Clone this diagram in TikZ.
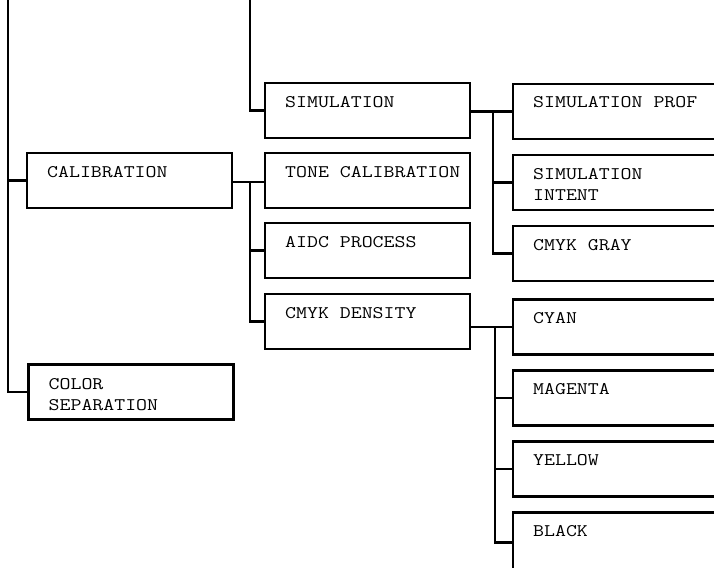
\documentclass[tikz,border=0pt]{standalone}
\usepackage{fontspec}
\newfontfamily\menufont[FakeStretch=1.2]{Latin Modern Mono}
\usetikzlibrary{positioning}
\tikzset{
  menubox/.style={draw, line width=2.4pt, minimum width=205pt, minimum height=55pt,
    inner sep=0pt, outer sep=0pt},
  menutext/.style={anchor=base west, inner sep=0pt, text=black,
    font=\menufont\fontsize{17.7}{21}\selectfont},
  link/.style={line width=2.4pt},
}
\begin{document}
\begin{tikzpicture}[x=1pt, y=-1pt]
  \clip (0,0) rectangle (714,567);
  % left column
  \node[menubox] (calib) at (129.5,180.5) {};
  \node[menubox] (colsep) at (131,392) {};
  % middle column
  \node[menubox] (simul) at (367.5,110.5) {};
  \node[menubox, below=15pt of simul] (tone) {};
  \node[menubox, below=15pt of tone] (aidc) {};
  \node[menubox, below=16pt of aidc] (dens) {};
  % right column, simulation branch
  \node[menubox] (simprof) at (615.5,111.5) {};
  \node[menubox, below=16pt of simprof] (intent) {};
  \node[menubox, below=16pt of intent] (gray) {};
  % right column, density branch
  \node[menubox] (cyan) at (615.5,327) {};
  \node[menubox, below=16pt of cyan] (magenta) {};
  \node[menubox, below=16pt of magenta] (yellow) {};
  \node[menubox, below=16pt of yellow, minimum height=60pt] (black) {};
  % texts
  \node[menutext] (calib-t) at ([shift={(20,24)}]calib.north west) {CALIBRATION};
  \node[menutext] (colsep-t) at ([shift={(20,25)}]colsep.north west)
    {\begin{tabular}[t]{@{}l@{}}COLOR\\SEPARATION\end{tabular}};
  \node[menutext] (simul-t) at ([shift={(20,24)}]simul.north west) {SIMULATION};
  \node[menutext] (tone-t) at ([shift={(20,24)}]tone.north west) {TONE CALIBRATION};
  \node[menutext] (aidc-t) at ([shift={(20,24)}]aidc.north west) {AIDC PROCESS};
  \node[menutext] (dens-t) at ([shift={(20,24)}]dens.north west) {CMYK DENSITY};
  \node[menutext] (simprof-t) at ([shift={(20,24)}]simprof.north west) {SIMULATION PROF};
  \node[menutext] (intent-t) at ([shift={(20,24)}]intent.north west)
    {\begin{tabular}[t]{@{}l@{}}SIMULATION\\INTENT\end{tabular}};
  \node[menutext] (gray-t) at ([shift={(20,24)}]gray.north west) {CMYK GRAY};
  \node[menutext] (cyan-t) at ([shift={(20,24)}]cyan.north west) {CYAN};
  \node[menutext] (magenta-t) at ([shift={(20,24)}]magenta.north west) {MAGENTA};
  \node[menutext] (yellow-t) at ([shift={(20,24)}]yellow.north west) {YELLOW};
  \node[menutext] (black-t) at ([shift={(20,24)}]black.north west) {BLACK};
  % spines coming from above
  \coordinate (lefttop) at (8,-5);
  \coordinate (midtop) at (250,-5);
  \draw[link] (lefttop) |- (calib.west);
  \draw[link] (lefttop) |- (colsep.west);
  \draw[link] (midtop) |- (simul.west);
  % calibration branch
  \coordinate (fork1) at (250,182);
  \draw[link] (calib.east |- fork1) -- (tone.west |- fork1);
  \draw[link] (fork1) |- (aidc.west);
  \draw[link] (fork1) |- (dens.west);
  % simulation branch
  \coordinate (fork2) at (493,111.5);
  \draw[link] (simul.east |- simprof.west) -- (simprof.west);
  \draw[link] (fork2) |- (intent.west);
  \draw[link] (fork2) |- (gray.west);
  % density branch
  \coordinate (fork3) at (495,327);
  \draw[link] (dens.east |- cyan.west) -- (cyan.west);
  \draw[link] (fork3) |- (magenta.west);
  \draw[link] (fork3) |- (yellow.west);
  \draw[link] (fork3) |- (black.west);
\end{tikzpicture}
\end{document}
